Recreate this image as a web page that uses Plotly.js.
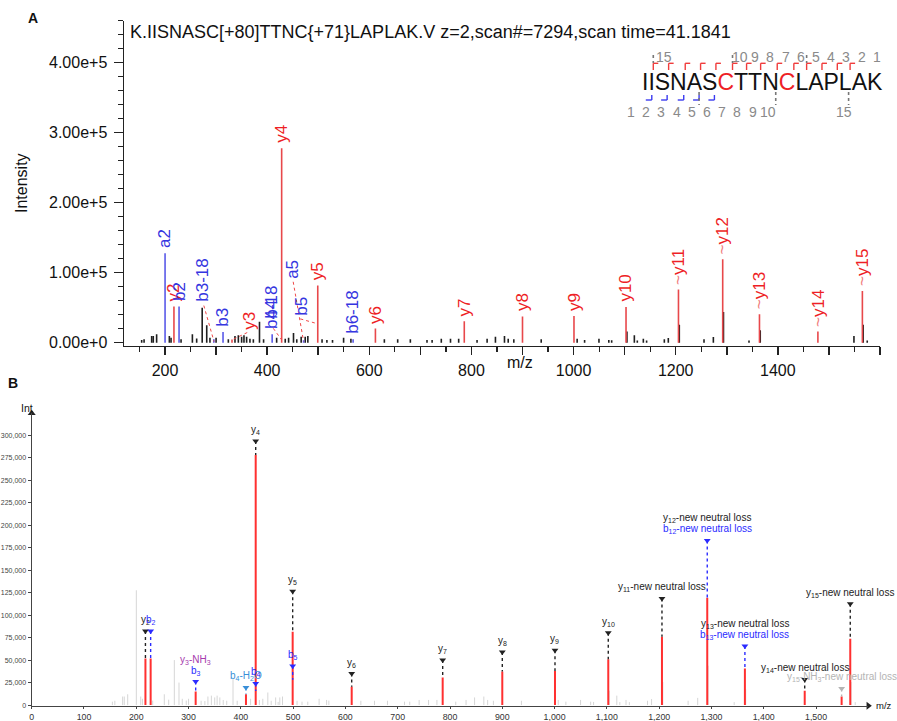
<!DOCTYPE html>
<html><head><meta charset="utf-8">
<script src="https://cdn.plot.ly/plotly-3.0.1.min.js"></script>
<style>html,body{margin:0;padding:0;background:#fff}#chart{width:897px;height:721px}</style>
</head><body><div id="chart"></div>
<script>
// ---------------- data ----------------
const titleText = "K.IISNASC[+80]TTNC{+71}LAPLAK.V z=2,scan#=7294,scan time=41.1841";
const peptide = "IISNASCTTNCLAPLAK";
const modSites = [7, 11];
const yObserved = [2,3,4,5,6,7,8,9,10,11,12,13,14,15];
const bObserved = [2,3,4,5,6];
const topNumbers = [1,2,3,4,5,6,7,8,9,10,15];
const bottomNumbers = [1,2,3,4,5,6,7,8,9,10,15];

// unannotated peaks
const noiseMz = [154.3,159,173.9,177,183.6,208.5,211.8,231.4,253.6,262,272.8,281.7,288,300,324,337,343.6,350,354.6,359.8,366.3,373,385,393,418.6,435.4,442,451.6,458,466.6,474.5,479.7,507.5,517,528,549.7,564,629.5,655.6,680.4,713,723,741,759,775,811,830.7,847,864.7,872,883,936.6,1007,1021.6,1049.7,1069,1074.6,1104.5,1119,1124.8,1136.6,1143,1177.7,1185.5,1207,1255.4,1273.7,1293.5,1343.5,1365.5,1567,1575];
const noiseInt = [3800,4800,9500,9500,12000,9500,7000,5000,12000,6000,50000,25000,7000,7000,4800,9500,10500,8500,10500,8500,5700,4800,30000,4800,7000,5700,7000,14000,4800,8500,8500,9500,4800,3800,3800,7000,5700,4800,4800,4800,3800,3800,5700,5700,5700,3800,5700,8500,9500,5700,4800,4800,5700,3800,5700,3800,3500,16000,10500,3300,5700,3300,4800,6700,25700,4800,8000,43800,3300,17600,25700,3300];

// fragment-ion peaks
const ionMz  = [200.1,217.5,227.5,295.6,313.6,331.2,409.8,428.4,471.3,499.1,568.3,612.0,786.0,900.0,1000.8,1102.7,1205.4,1292.0,1364.0,1478.4,1549.0,1565.5];
const ionInt = [127600,51700,51700,5000,15100,4500,12000,277900,3500,81600,5000,20300,30600,37300,38000,50900,76000,119200,40600,15900,9600,73800];
// panel A labels
const aLabel = ["a2","y2","b2","b3-18","b3","y3","b4-18","y4","a5","y5","b6-18","y6","y7","y8","y9","y10","y11","y12","y13","y14","","y15"];
const aExtraLabel = ["b4","b5"];
const aExtraMz = [428.4, 499.1];
const aWavy = ["y11","y12","y13","y14","y15"];
// panel B labels
const bText = ["y<sub>2</sub>","b<sub>2</sub>","b<sub>3</sub>","y<sub>3</sub>-NH<sub>3</sub>","b<sub>4</sub>-H<sub>2</sub>O","b<sub>4</sub>","y<sub>4</sub>","y<sub>5</sub>","b<sub>5</sub>","y<sub>6</sub>","y<sub>7</sub>","y<sub>8</sub>","y<sub>9</sub>","y<sub>10</sub>","y<sub>11</sub>-new neutral loss","b<sub>12</sub>-new neutral loss","y<sub>12</sub>-new neutral loss","b<sub>13</sub>-new neutral loss","y<sub>13</sub>-new neutral loss","y<sub>14</sub>-new neutral loss","y<sub>15</sub>-NH<sub>3</sub>-new neutral loss","y<sub>15</sub>-new neutral loss"];
const bMz    = [217.5,227.5,313.6,313.6,409.8,428.4,428.4,499.1,499.1,612.0,786.0,900.0,1000.8,1102.7,1205.4,1292.0,1292.0,1364.0,1364.0,1478.4,1549.0,1565.5];
const bLevel = [82200,82200,26200,26200,19600,24000,293400,126500,43500,35100,50100,59000,60900,80500,118500,183000,183000,65600,65600,28500,18500,112600];
const bKind  = ["y","b","b","nh3","h2o","b","y","y","b","y","y","y","y","y","y","b","y","b","y","y","grey","y"];

// axis ticks
const xTicksA = [200,300,400,500,600,700,800,900,1000,1100,1200,1300,1400,1500,1600];
const xTickTextA = ["200","","400","","600","","800","","1000","","1200","","1400","","1600"];
const yTicksA = [0,100000,200000,300000,400000];
const yTickTextA = ["0.00e+0","1.00e+5","2.00e+5","3.00e+5","4.00e+5"];
const xTicksB = [0,100,200,300,400,500,600,700,800,900,1000,1100,1200,1300,1400,1500];
const yTicksB = [0,25000,50000,75000,100000,125000,150000,175000,200000,225000,250000,275000,300000];

// ---------------- drawing ----------------
const W = 897, H = 721;
const px = v => v / W, py = v => 1 - v / H;
const FONT = "Liberation Sans, Arial, Helvetica, sans-serif";
const fmt = v => v.toLocaleString('en-US');

function stems(ms, is) {
  const x = [], y = [];
  ms.forEach((m, i) => { x.push(m, m, null); y.push(0, is[i], null); });
  return {x, y};
}

const RED_LINE = '#e8484b', BLUE_LINE = '#5a5ae8', BLACK_LINE = '#1f1f1f';
const RED_TXT = '#ee1f26', BLUE_TXT = '#3535e0';

// Panel A stems
const aBlack = {m: noiseMz.slice(), i: noiseInt.slice()};
const aRed = {m: [], i: []}, aBlue = {m: [], i: []};
ionMz.forEach((m, k) => {
  const l = aLabel[k];
  if (!l) { aBlack.m.push(m); aBlack.i.push(ionInt[k]); }
  else if (l[0] === 'y') { aRed.m.push(m); aRed.i.push(ionInt[k]); }
  else { aBlue.m.push(m); aBlue.i.push(ionInt[k]); }
});
// Panel B stems
const bGrey = {m: noiseMz.slice(), i: noiseInt.slice()};
const bRed = {m: [], i: []};
ionMz.forEach((m, k) => {
  if (bMz.indexOf(m) >= 0) { bRed.m.push(m); bRed.i.push(ionInt[k]); }
  else { bGrey.m.push(m); bGrey.i.push(ionInt[k]); }
});

const traces = [];
function addStems(obj, color, width, xa, ya) {
  const s = stems(obj.m, obj.i);
  traces.push({x: s.x, y: s.y, xaxis: xa, yaxis: ya, mode: 'lines', line: {color, width}, hoverinfo: 'skip'});
}
addStems(aBlack, BLACK_LINE, 1.6, 'x', 'y');
addStems(aBlue, BLUE_LINE, 1.6, 'x', 'y');
addStems(aRed, RED_LINE, 1.6, 'x', 'y');
addStems(bGrey, '#d6d6d6', 1, 'x2', 'y2');
addStems(bRed, '#ff3030', 2, 'x2', 'y2');

const annotations = [];
const shapes = [];

// Panel A labels
const aMoved = {
  "b3-18": {at: [274.5, 55000], from: [276, 53000], to: [296, 1500]},
  "y3":    {at: [365, 16000],   from: [361, 14500], to: [331.2, 4000]},
  "b4":    {at: [408, 31000],   from: [412, 20500], to: [428.4, 4000]},
  "a5":    {at: [450.5, 89000], from: [451, 87000], to: [471.3, 2000]},
  "b5":    {at: [467.7, 36000], from: [465, 34000], to: [494, 28000]}
};
function addALabel(lab, m, inten) {
  const mv = aMoved[lab];
  const pos = mv ? mv.at : [m, inten];
  const col = lab[0] === 'y' ? RED_TXT : BLUE_TXT;
  const txt = (aWavy.indexOf(lab) >= 0 ? "<span style='color:#f07a7a'>~</span>" : "") + lab;
  annotations.push({x: pos[0], y: pos[1], xref: 'x', yref: 'y', text: txt, textangle: -90,
    xanchor: 'center', yanchor: 'bottom', yshift: mv ? 0 : 3, showarrow: false,
    font: {family: FONT, size: 17, color: col}});
  if (mv) {
    shapes.push({type: 'line', xref: 'x', yref: 'y', x0: mv.from[0], y0: mv.from[1], x1: mv.to[0], y1: mv.to[1],
      line: {color: '#f04848', width: 1, dash: 'dot'}});
  }
}
ionMz.forEach((m, k) => { if (aLabel[k]) addALabel(aLabel[k], m, ionInt[k]); });
aExtraLabel.forEach((l, k) => addALabel(l, aExtraMz[k], 0));

// Panel B labels
const kindTxt = {y: '#222222', b: '#2b2bff', nh3: '#a63aae', h2o: '#3a8fd8', grey: '#b4b4b4'};
const mk = {x: [], y: [], c: []};
let row = 0;
bText.forEach((t, k) => {
  if (k > 0 && bMz[k] === bMz[k-1] && bLevel[k] === bLevel[k-1]) row += 1; else row = 0;
  const col = kindTxt[bKind[k]];
  annotations.push({x: bMz[k], y: bLevel[k], xref: 'x2', yref: 'y2', text: t, xanchor: 'center', yanchor: 'bottom',
    yshift: 3 + row * 11, showarrow: false, font: {family: FONT, size: 10, color: col}});
  if (row === 0) {
    mk.x.push(bMz[k]); mk.y.push(bLevel[k]); mk.c.push(col);
    const pk = ionInt[ionMz.indexOf(bMz[k])];
    const yEnd = bLevel[k] > pk ? pk : bLevel[k] * 0.65;
    shapes.push({type: 'line', xref: 'x2', yref: 'y2', x0: bMz[k], x1: bMz[k], y0: bLevel[k], y1: yEnd,
      line: {color: col, width: 1.4, dash: 'dot'}});
  }
});
traces.push({x: mk.x, y: mk.y, xaxis: 'x2', yaxis: 'y2', mode: 'markers', hoverinfo: 'skip',
  marker: {symbol: 'triangle-down', size: 6, color: mk.c}, cliponaxis: false});
// axis arrows of panel B
traces.push({x: [0, 1600], y: [324300, -800], xaxis: 'x2', yaxis: 'y2', mode: 'markers', hoverinfo: 'skip',
  marker: {symbol: ['triangle-up', 'triangle-right'], size: 7, color: '#222'}, cliponaxis: false});

// Peptide coverage diagram (panel A)
const charW = {I: 278, S: 667, N: 722, A: 667, C: 722, T: 611, L: 556, P: 667, K: 667};
const pepFont = 23, pepX0 = 641;
const bounds = [pepX0];
for (const ch of peptide) bounds.push(bounds[bounds.length - 1] + charW[ch] * pepFont / 1000);
let pepHtml = '';
[...peptide].forEach((ch, i) => {
  pepHtml += modSites.indexOf(i + 1) >= 0 ? "<span style='color:#ee1f26'>" + ch + "</span>" : ch;
});
annotations.push({x: px(pepX0 - 1), y: py(82), xref: 'paper', yref: 'paper', text: pepHtml, xanchor: 'left', yanchor: 'middle',
  showarrow: false, font: {family: FONT, size: pepFont, color: '#111'}});
const nRes = peptide.length;
function pline(x0, y0, x1, y1, color, dash, w) {
  shapes.push({type: 'line', xref: 'paper', yref: 'paper', x0: px(x0), y0: py(y0), x1: px(x1), y1: py(y1),
    line: {color, width: w || 1.4, dash: dash || 'solid'}});
}
yObserved.forEach(n => {
  const bx = bounds[nRes - n] - 0.5;
  pline(bx, 70, bx, 63.3, '#f03c3c'); pline(bx, 63.3, bx + 5, 63.3, '#f03c3c');
});
bObserved.forEach(n => {
  const bx = bounds[n] - 2;
  pline(bx, 95, bx, 100, '#3b3bf0'); pline(bx, 100, bx - 6, 100, '#3b3bf0');
});
[5, 10, 15].forEach(n => {
  const tx = bounds[nRes - n] - 0.5; pline(tx, 55, tx, 63, '#777', 'dot', 1.6);
  const bx = bounds[n] - 2; pline(bx, 92, bx, 105, '#777', 'dot', 1.6);
});
topNumbers.forEach(n => annotations.push({x: px(876.7 - (n - 1) * 15.2), y: py(56.7), xref: 'paper', yref: 'paper',
  text: String(n), showarrow: false, xanchor: 'center', yanchor: 'middle', font: {family: FONT, size: 14, color: '#8a8a8a'}}));
bottomNumbers.forEach(n => annotations.push({x: px(631 + (n - 1) * 15.2), y: py(111.7), xref: 'paper', yref: 'paper',
  text: String(n), showarrow: false, xanchor: 'center', yanchor: 'middle', font: {family: FONT, size: 14, color: '#8a8a8a'}}));

// Titles & panel letters
function ptext(x, y, text, size, opts) {
  annotations.push(Object.assign({x: px(x), y: py(y), xref: 'paper', yref: 'paper', text, showarrow: false,
    xanchor: 'center', yanchor: 'middle', font: {family: FONT, size, color: '#111'}}, opts || {}));
}
ptext(128, 32, titleText, 18, {xanchor: 'left'});
ptext(33, 18, '<b>A</b>', 14);
ptext(21, 183, 'Intensity', 16, {textangle: -90});
ptext(520, 362, 'm/z', 16);
ptext(13, 383, '<b>B</b>', 14);
ptext(27, 407.5, 'Int', 10.5);
ptext(884, 705, 'm/z', 9.5);

const layout = {
  width: W, height: H, margin: {l: 0, r: 0, t: 0, b: 0}, showlegend: false,
  paper_bgcolor: '#fff', plot_bgcolor: '#fff', font: {family: FONT},
  xaxis: {domain: [px(124), px(880)], range: [119.7, 1600], anchor: 'y', showline: true, linecolor: '#222', linewidth: 1.5,
    ticks: 'outside', ticklen: 8, tickwidth: 1.5, tickcolor: '#222', tickmode: 'array', tickvals: xTicksA, ticktext: xTickTextA,
    tickfont: {size: 16, color: '#111'}, ticklabelstandoff: 2,
    minor: {tickmode: 'linear', tick0: 0, dtick: 50, ticks: 'outside', ticklen: 5, tickwidth: 1.2, tickcolor: '#222'},
    showgrid: false, zeroline: false, fixedrange: true},
  yaxis: {domain: [py(345.7), py(20.7)], range: [-4300, 460000], anchor: 'x', showline: true, linecolor: '#222', linewidth: 1.5,
    ticks: 'outside', ticklen: 9, tickwidth: 1.5, tickcolor: '#222', tickmode: 'array', tickvals: yTicksA, ticktext: yTickTextA,
    tickfont: {size: 16, color: '#111'}, ticklabelstandoff: 3,
    minor: {tickmode: 'linear', tick0: 0, dtick: 20000, ticks: 'outside', ticklen: 5, tickwidth: 1.2, tickcolor: '#222'},
    showgrid: false, zeroline: false, fixedrange: true},
  xaxis2: {domain: [px(31.7), px(868.3)], range: [0, 1600], anchor: 'y2', showline: true, linecolor: '#444', linewidth: 1.2,
    ticks: 'outside', ticklen: 2, tickcolor: '#444', tickmode: 'array', tickvals: xTicksB, ticktext: xTicksB.map(fmt),
    tickfont: {size: 8.8, color: '#333'}, showgrid: false, zeroline: false, fixedrange: true},
  yaxis2: {domain: [py(705.8), py(413.3)], range: [-800, 324300], anchor: 'x2', showline: true, linecolor: '#444', linewidth: 1.2,
    ticks: 'outside', ticklen: 3, tickcolor: '#444', tickmode: 'array', tickvals: yTicksB, ticktext: yTicksB.map(fmt),
    tickfont: {size: 7, color: '#444'}, showgrid: false, zeroline: false, fixedrange: true},
  annotations, shapes
};
Plotly.newPlot('chart', traces, layout, {displayModeBar: false, staticPlot: true});
</script></body></html>
